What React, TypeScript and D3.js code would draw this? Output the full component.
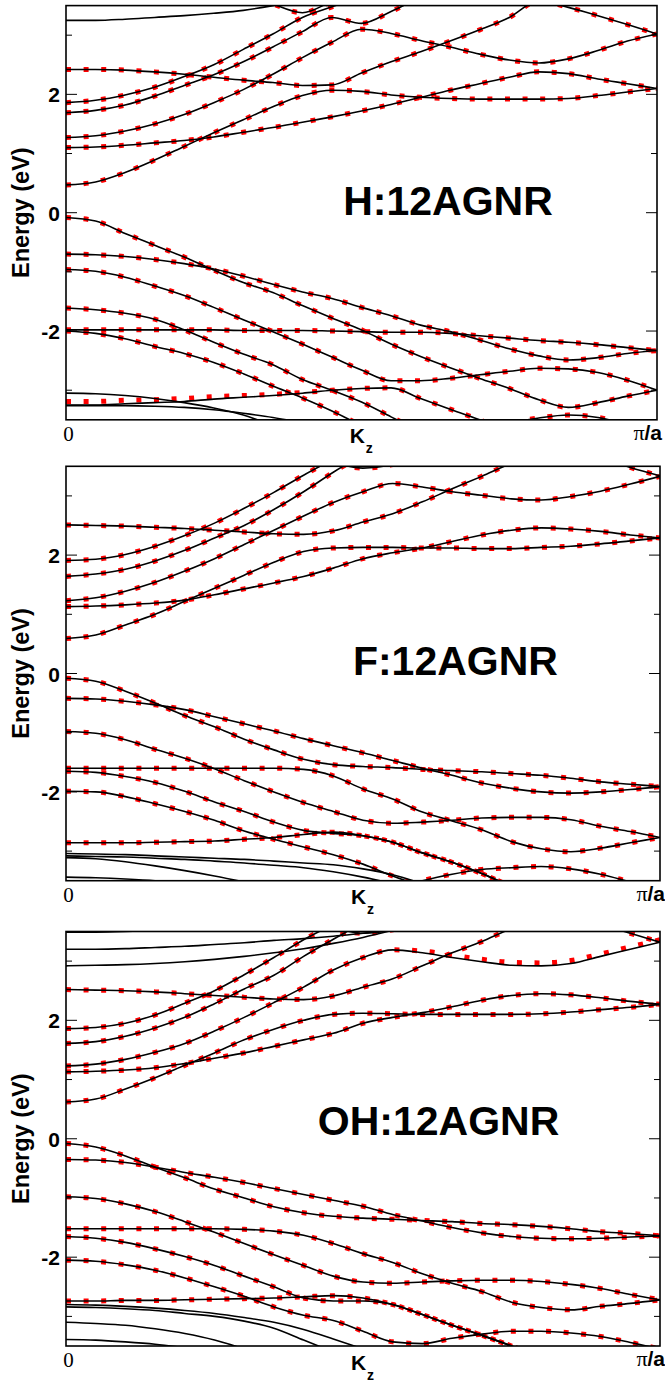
import React from 'react';
import * as d3 from 'd3';

const _ = null;

// k along the zone, 0 .. pi/a
const kGrid = [0, 0.05, 0.1, 0.15, 0.2, 0.25, 0.3, 0.35, 0.4, 0.45, 0.5, 0.55, 0.6, 0.65, 0.7, 0.75, 0.8, 0.85, 0.9, 0.95, 1];

const majorTicks = [-2, 0, 2];
const minorTicks = [-3, -1, 1, 3];

// ---------- H:12AGNR (eV) ----------
const hT1 = [3.25, 3.25, 3.27, 3.30, 3.33, 3.37, 3.42, 3.50, 3.60, _, _, _, _, _, _, _, _, _, _, _, _];
const hT2 = [_, _, _, _, _, _, 3.75, 3.53, 3.38, 3.57, 3.75, _, _, _, _, _, _, _, _, _, _];
const hA = [1.86, 1.90, 1.99, 2.12, 2.30, 2.50, 2.76, 3.02, 3.30, 3.48, 3.65, _, _, _, _, _, _, _, _, _, _];
const hB = [1.69, 1.73, 1.82, 1.97, 2.15, 2.33, 2.55, 2.80, 3.06, 3.30, 3.20, 3.40, 3.65, _, _, _, _, _, _, _, _];
const hC = [1.27, 1.30, 1.38, 1.50, 1.66, 1.86, 2.08, 2.34, 2.62, 2.88, 3.10, 3.03, 2.91, 2.80, 2.68, 2.58, 2.53, 2.60, 2.74, 2.90, 3.02];
const hD = [1.10, 1.11, 1.14, 1.18, 1.22, 1.28, 1.36, 1.44, 1.53, 1.62, 1.72, 1.83, 1.95, 2.07, 2.18, 2.29, 2.38, 2.35, 2.26, 2.18, 2.10];
const hC1 = [0.47, 0.52, 0.68, 0.89, 1.12, 1.35, 1.57, 1.79, 1.98, 2.07, 2.05, 1.99, 1.95, 1.93, 1.92, 1.92, 1.92, 1.93, 1.98, 2.04, 2.10];
const hC6 = [2.42, 2.42, 2.41, 2.38, 2.34, 2.29, 2.24, 2.20, 2.15, 2.16, 2.36, 2.55, 2.72, 2.90, 3.09, 3.30, 3.58, 3.47, 3.33, 3.18, 3.02];
const hV1 = [-0.08, -0.14, -0.35, -0.55, -0.75, -0.97, -1.18, -1.35, -1.57, -1.78, -1.98, -2.22, -2.43, -2.62, -2.80, -2.97, -3.16, -3.29, -3.21, -3.10, -3.00];
const hV2 = [-0.70, -0.71, -0.74, -0.79, -0.86, -0.95, -1.07, -1.21, -1.34, -1.45, -1.60, -1.74, -1.90, -2.01, -2.15, -2.30, -2.42, -2.49, -2.45, -2.38, -2.33];
const hV3 = [-0.96, -0.99, -1.09, -1.24, -1.40, -1.60, -1.81, -2.01, -2.22, -2.44, -2.66, -2.84, -2.84, -2.80, -2.74, -2.68, -2.63, -2.64, -2.70, -2.83, -3.00];
const hV4 = [-1.61, -1.64, -1.70, -1.80, -1.98, -2.19, -2.39, -2.57, -2.82, -3.00, -3.20, -3.45, -3.70, _, _, _, _, _, _, _, _];
const hV5a = [-1.98, -1.98, -1.98, -1.98, -1.98, -1.98, -1.99, -1.99, -1.99, -2.00, -2.01, -2.02, -2.02, -2.04, -2.08, -2.12, -2.16, -2.19, -2.23, -2.28, -2.33];
const hV5b = [-2.00, -2.04, -2.13, -2.26, -2.38, -2.53, -2.72, -2.93, -3.13, -3.35, -3.60, _, _, _, _, _, _, _, _, _, _];
const hV7k = [-3.25, -3.25, -3.23, -3.21, -3.19, -3.15, -3.12, -3.09, -3.05, -3.00, -2.97, -2.96, -3.14, -3.32, -3.50, -3.70, _, _, _, _, _];
const hV7r = [-3.19, -3.19, -3.17, -3.16, -3.14, -3.11, -3.09, -3.07, -3.04, -3.00, -2.97, -2.96, -3.14, -3.32, -3.50, -3.70, _, _, _, _, _];
const hK1 = [-3.05, -3.06, -3.09, -3.14, -3.21, -3.30, -3.42, -3.60, _, _, _, _, _, _, _, _, _, _, _, _, _];
const hK2 = [-3.26, -3.26, -3.26, -3.27, -3.29, -3.33, -3.39, -3.46, -3.55, _, _, _, _, _, _, _, _, _, _, _, _];
const hPk = [_, _, _, _, _, _, _, _, _, _, _, _, _, _, -3.75, -3.56, -3.47, -3.42, -3.46, -3.58, _];

// ---------- F:12AGNR (eV) ----------
const fTd = [_, _, _, _, _, _, _, _, 3.70, 3.56, 3.47, 3.53, 3.70, _, _, _, _, _, _, _, _];
const fA = [1.91, 1.93, 2.01, 2.15, 2.33, 2.54, 2.79, 3.06, 3.35, 3.62, _, _, _, _, _, _, _, _, _, _, _];
const fB = [1.64, 1.68, 1.76, 1.90, 2.08, 2.29, 2.50, 2.77, 3.07, 3.40, 3.70, _, _, _, _, _, _, _, _, _, _];
const fC = [1.23, 1.28, 1.39, 1.54, 1.73, 1.94, 2.18, 2.42, 2.66, 2.89, 3.07, 3.21, 3.15, 3.07, 3.01, 2.95, 2.93, 2.99, 3.08, 3.20, 3.33];
const fD = [1.13, 1.14, 1.16, 1.19, 1.24, 1.33, 1.43, 1.53, 1.64, 1.78, 1.94, 2.04, 2.12, 2.23, 2.34, 2.42, 2.46, 2.44, 2.40, 2.34, 2.29];
const fC1 = [0.59, 0.65, 0.82, 1.00, 1.22, 1.44, 1.66, 1.88, 2.06, 2.12, 2.13, 2.13, 2.12, 2.12, 2.11, 2.11, 2.13, 2.15, 2.19, 2.24, 2.29];
const fC6 = [2.51, 2.50, 2.49, 2.47, 2.45, 2.42, 2.39, 2.36, 2.35, 2.41, 2.56, 2.70, 2.90, 3.12, 3.33, 3.55, 3.70, 3.75, 3.65, 3.48, 3.34];
const fV1 = [-0.08, -0.13, -0.30, -0.50, -0.71, -0.90, -1.11, -1.29, -1.45, -1.54, -1.57, -1.59, -1.62, -1.64, -1.66, -1.69, -1.72, -1.77, -1.83, -1.87, -1.91];
const fV2 = [-0.42, -0.43, -0.47, -0.53, -0.61, -0.73, -0.85, -0.97, -1.10, -1.22, -1.34, -1.47, -1.60, -1.72, -1.85, -1.94, -2.00, -2.02, -2.00, -1.96, -1.91];
const fV3 = [-0.98, -1.01, -1.12, -1.28, -1.43, -1.61, -1.81, -2.00, -2.18, -2.33, -2.48, -2.53, -2.51, -2.48, -2.44, -2.43, -2.43, -2.47, -2.58, -2.67, -2.77];
const fV4a = [-1.60, -1.60, -1.60, -1.60, -1.60, -1.60, -1.60, -1.60, -1.62, -1.73, -1.95, -2.12, -2.34, -2.49, -2.64, -2.84, -2.96, -3.01, -2.95, -2.86, -2.77];
const fV4b = [-1.65, -1.67, -1.74, -1.84, -1.99, -2.17, -2.33, -2.51, -2.65, -2.70, -2.74, -2.85, -3.03, -3.19, -3.38, -3.60, _, _, _, _, _];
const fV5 = [-1.99, -2.00, -2.08, -2.20, -2.33, -2.48, -2.66, -2.80, -2.93, -3.06, -3.22, -3.42, -3.60, _, _, _, _, _, _, _, _];
const fV6 = [-2.86, -2.86, -2.86, -2.85, -2.84, -2.83, -2.80, -2.77, -2.72, -2.68, -2.74, -2.85, -3.03, -3.19, -3.38, -3.60, _, _, _, _, _];
const fPk = [_, _, _, _, _, _, _, _, _, _, _, -3.65, -3.50, -3.39, -3.31, -3.28, -3.26, -3.30, -3.39, -3.52, -3.65];
const fK1 = [-3.04, -3.05, -3.06, -3.08, -3.10, -3.12, -3.14, -3.17, -3.20, -3.23, -3.30, -3.40, -3.55, _, _, _, _, _, _, _, _];
const fK2 = [-3.08, -3.09, -3.10, -3.12, -3.14, -3.17, -3.20, -3.24, -3.28, -3.35, -3.44, -3.55, _, _, _, _, _, _, _, _, _];
const fK3 = [-3.11, -3.13, -3.18, -3.25, -3.33, -3.42, -3.52, _, _, _, _, _, _, _, _, _, _, _, _, _, _];
const fK4 = [-3.44, -3.45, -3.47, -3.50, -3.55, _, _, _, _, _, _, _, _, _, _, _, _, _, _, _, _];

// ---------- OH:12AGNR (eV) ----------
const oT0 = [3.49, 3.49, 3.50, 3.52, 3.55, _, _, _, _, _, _, _, _, _, _, _, _, _, _, _, _];
const oT1 = [3.20, 3.20, 3.21, 3.23, 3.25, 3.28, 3.31, 3.35, 3.38, 3.42, 3.47, 3.52, 3.60, _, _, _, _, _, _, _, _];
const oT2 = [2.92, 2.93, 2.94, 2.96, 2.99, 3.03, 3.08, 3.14, 3.21, 3.30, 3.40, 3.52, 3.65, _, _, _, _, _, _, _, _];
const oTd = [_, _, _, _, _, _, _, _, 3.70, 3.56, 3.47, 3.53, 3.70, _, _, _, _, _, _, _, _];
const oA = [1.86, 1.88, 1.95, 2.09, 2.29, 2.50, 2.77, 3.06, 3.36, 3.62, _, _, _, _, _, _, _, _, _, _, _];
const oB = [1.61, 1.64, 1.73, 1.87, 2.05, 2.28, 2.53, 2.76, 3.08, 3.37, 3.65, _, _, _, _, _, _, _, _, _, _];
const oC = [1.23, 1.26, 1.34, 1.46, 1.61, 1.82, 2.05, 2.30, 2.56, 2.85, 3.06, 3.19, 3.14, 3.06, 2.99, 2.93, 2.92, 2.96, 3.08, 3.20, 3.32];
const oCr = [1.23, 1.26, 1.34, 1.46, 1.61, 1.82, 2.05, 2.30, 2.56, 2.85, 3.06, 3.19, 3.17, 3.10, 3.03, 2.98, 2.97, 3.01, 3.12, 3.24, 3.36];
const oD = [1.13, 1.14, 1.16, 1.20, 1.27, 1.36, 1.45, 1.56, 1.67, 1.78, 1.95, 2.05, 2.13, 2.23, 2.34, 2.42, 2.45, 2.43, 2.38, 2.32, 2.27];
const oC1 = [0.62, 0.67, 0.84, 1.03, 1.24, 1.45, 1.67, 1.85, 2.00, 2.10, 2.12, 2.11, 2.10, 2.10, 2.10, 2.10, 2.11, 2.14, 2.18, 2.22, 2.27];
const oC6 = [2.52, 2.51, 2.50, 2.48, 2.45, 2.42, 2.39, 2.36, 2.35, 2.41, 2.56, 2.70, 2.92, 3.14, 3.33, 3.55, 3.70, 3.75, 3.62, 3.47, 3.32];
const oV1 = [-0.08, -0.14, -0.29, -0.48, -0.66, -0.85, -1.00, -1.15, -1.25, -1.31, -1.34, -1.36, -1.38, -1.40, -1.43, -1.45, -1.48, -1.52, -1.57, -1.60, -1.64];
const oV2 = [-0.35, -0.36, -0.40, -0.48, -0.57, -0.65, -0.74, -0.84, -0.94, -1.04, -1.14, -1.28, -1.39, -1.50, -1.59, -1.65, -1.68, -1.69, -1.68, -1.66, -1.64];
const oV3 = [-0.98, -1.01, -1.10, -1.23, -1.40, -1.58, -1.77, -1.96, -2.14, -2.32, -2.42, -2.44, -2.42, -2.40, -2.39, -2.39, -2.41, -2.46, -2.53, -2.63, -2.72];
const oV4a = [-1.52, -1.52, -1.52, -1.52, -1.52, -1.52, -1.53, -1.56, -1.63, -1.77, -1.94, -2.09, -2.28, -2.44, -2.58, -2.76, -2.85, -2.89, -2.83, -2.78, -2.72];
const oV4b = [-1.65, -1.68, -1.75, -1.86, -1.99, -2.14, -2.32, -2.50, -2.69, -2.74, -2.74, -2.80, -2.97, -3.15, -3.32, -3.50, -3.70, _, _, _, _];
const oV5 = [-2.05, -2.07, -2.13, -2.22, -2.35, -2.50, -2.66, -2.84, -2.98, -3.07, -3.25, -3.43, -3.46, -3.37, -3.30, -3.25, -3.25, -3.28, -3.34, -3.44, -3.55];
const oV6 = [-2.74, -2.74, -2.73, -2.73, -2.72, -2.71, -2.70, -2.69, -2.67, -2.65, -2.69, -2.80, -2.97, -3.15, -3.32, -3.50, -3.70, _, _, _, _];
const oK1 = [-2.80, -2.81, -2.83, -2.86, -2.90, -2.95, -3.02, -3.10, -3.22, -3.38, -3.55, _, _, _, _, _, _, _, _, _, _];
const oK2 = [-2.84, -2.85, -2.87, -2.90, -2.95, -3.00, -3.08, -3.20, -3.40, -3.60, _, _, _, _, _, _, _, _, _, _, _];
const oK3 = [-3.10, -3.12, -3.15, -3.21, -3.29, -3.40, -3.55, _, _, _, _, _, _, _, _, _, _, _, _, _, _];
const oK4 = [-3.39, -3.40, -3.43, -3.47, -3.53, _, _, _, _, _, _, _, _, _, _, _, _, _, _, _, _];

type Band = { e: (number | null)[]; red: boolean; black: boolean };
const both = (e: (number | null)[]): Band => ({ e, red: true, black: true });
const blackOnly = (e: (number | null)[]): Band => ({ e, red: false, black: true });
const redOnly = (e: (number | null)[]): Band => ({ e, red: true, black: false });

const hBands: Band[] = [
  blackOnly(hT1), both(hT2), both(hA), both(hB), both(hC), both(hD), both(hC1), both(hC6),
  both(hV1), both(hV2), both(hV3), both(hV4), both(hV5a), both(hV5b),
  blackOnly(hV7k), redOnly(hV7r), blackOnly(hK1), blackOnly(hK2), both(hPk),
];
const fBands: Band[] = [
  both(fTd), both(fA), both(fB), both(fC), both(fD), both(fC1), both(fC6),
  both(fV1), both(fV2), both(fV3), both(fV4a), both(fV4b), both(fV5), both(fV6), both(fPk),
  blackOnly(fK1), blackOnly(fK2), blackOnly(fK3), blackOnly(fK4),
];
const oBands: Band[] = [
  blackOnly(oT0), blackOnly(oT1), blackOnly(oT2), both(oTd), both(oA), both(oB),
  blackOnly(oC), redOnly(oCr), both(oD), both(oC1), both(oC6),
  both(oV1), both(oV2), both(oV3), both(oV4a), both(oV4b), both(oV5), both(oV6),
  blackOnly(oK1), blackOnly(oK2), blackOnly(oK3), blackOnly(oK4),
];

const panels = [
  { id: 'h', name: 'H:12AGNR', bands: hBands, left: 66, right: 657, top: 5.6, bottom: 419.8, labelK: 0.469, labelE: -0.04 },
  { id: 'f', name: 'F:12AGNR', bands: fBands, left: 66, right: 660, top: 466.3, bottom: 880.7, labelK: 0.483, labelE: -0.03 },
  { id: 'o', name: 'OH:12AGNR', bands: oBands, left: 66, right: 660, top: 931.5, bottom: 1346, labelK: 0.424, labelE: 0.06 },
];

const SANS = 'Liberation Sans, Arial, Helvetica, sans-serif';
const SERIF = 'Liberation Serif, Times New Roman, serif';

function Panel({ p }: { p: typeof panels[number] }) {
  const x = d3.scaleLinear().domain([0, 1]).range([p.left, p.right]);
  const y = d3.scaleLinear().domain([-3.5, 3.5]).range([p.bottom, p.top]);
  const line = d3
    .line<[number, number | null]>()
    .defined((d) => d[1] !== null)
    .x((d) => x(d[0]))
    .y((d) => y(d[1] as number))
    .curve(d3.curveMonotoneX);
  const path = (e: (number | null)[]) => line(kGrid.map((k, i) => [k, e[i]] as [number, number | null])) || '';
  const clip = `clip-${p.id}`;

  return (
    <g>
      <defs>
        <clipPath id={clip}>
          <rect x={p.left} y={p.top} width={p.right - p.left} height={p.bottom - p.top} />
        </clipPath>
      </defs>
      <g clipPath={`url(#${clip})`}>
        {p.bands.filter((b) => b.red).map((b, i) => (
          <path key={'r' + i} d={path(b.e)} fill="none" stroke="#ff0000" strokeWidth={5} strokeDasharray="5 12.6" />
        ))}
        {p.bands.filter((b) => b.black).map((b, i) => (
          <path key={'k' + i} d={path(b.e)} fill="none" stroke="#000" strokeWidth={1.6} />
        ))}
      </g>
      <rect x={p.left} y={p.top} width={p.right - p.left} height={p.bottom - p.top} fill="none" stroke="#000" strokeWidth={1.6} />
      {majorTicks.map((t) => (
        <g key={'M' + t}>
          <line x1={p.left} x2={p.left + 11} y1={y(t)} y2={y(t)} stroke="#000" strokeWidth={1} />
          <line x1={p.right - 11} x2={p.right} y1={y(t)} y2={y(t)} stroke="#000" strokeWidth={1} />
          <text x={60} y={y(t) + 8} textAnchor="end" fontFamily={SANS} fontWeight="bold" fontSize={21}>
            {t}
          </text>
        </g>
      ))}
      {minorTicks.map((t) => (
        <g key={'m' + t}>
          <line x1={p.left} x2={p.left + 6} y1={y(t)} y2={y(t)} stroke="#000" strokeWidth={1} />
          <line x1={p.right - 6} x2={p.right} y1={y(t)} y2={y(t)} stroke="#000" strokeWidth={1} />
        </g>
      ))}
      <text
        transform={`translate(29, ${y(0)}) rotate(-90)`}
        textAnchor="middle"
        fontFamily={SANS}
        fontWeight="bold"
        fontSize={23.5}
      >
        Energy (eV)
      </text>
      <text x={x(p.labelK)} y={y(p.labelE)} fontFamily={SANS} fontWeight="bold" fontSize={41}>
        {p.name}
      </text>
      <text x={x(0) + 2.5} y={p.bottom + 21} textAnchor="middle" fontFamily={SERIF} fontSize={21}>
        0
      </text>
      <text x={x(0.48)} y={p.bottom + 23.5} fontFamily={SANS} fontWeight="bold" fontSize={21}>
        K
      </text>
      <text x={x(0.48) + 16} y={p.bottom + 33.5} fontFamily={SANS} fontWeight="bold" fontSize={14}>
        z
      </text>
      <text x={p.right + 5} y={p.bottom + 20} textAnchor="end">
        <tspan fontFamily={SERIF} fontSize={22}>π</tspan>
        <tspan fontFamily={SANS} fontWeight="bold" fontSize={21}>/a</tspan>
      </text>
    </g>
  );
}

export default function App() {
  return (
    <svg
      width={665}
      height={1382}
      viewBox="0 0 665 1382"
      style={{ position: 'absolute', left: 0, top: 0, display: 'block', background: '#fff' }}
    >
      <rect x={0} y={0} width={665} height={1382} fill="#fff" />
      {panels.map((p) => (
        <Panel key={p.id} p={p} />
      ))}
    </svg>
  );
}
